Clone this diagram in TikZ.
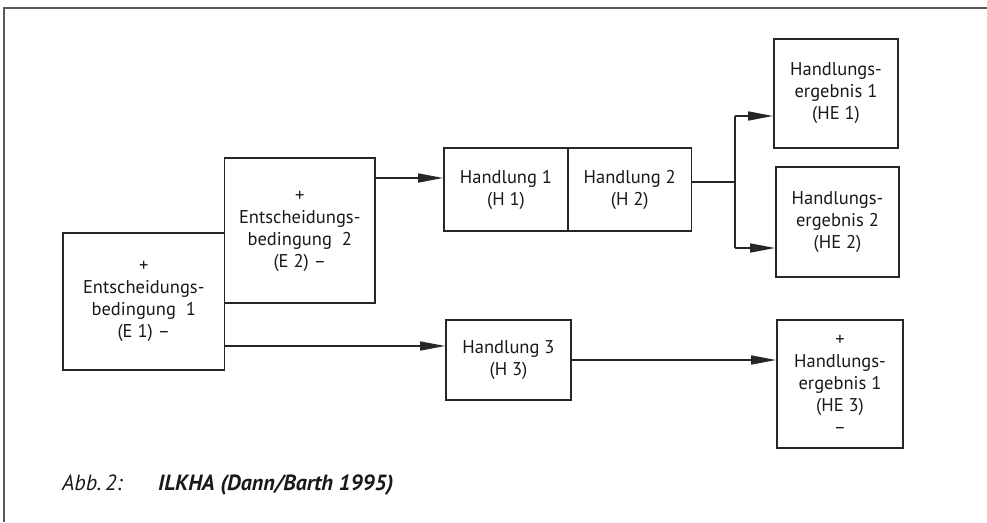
\documentclass[tikz,border=0pt]{standalone}
\usepackage{fontspec}
\setmainfont{PT Sans}
\usetikzlibrary{arrows.meta,calc}
\begin{document}
\begin{tikzpicture}[x=1pt,y=-1pt,
  box/.style={draw=black!85, line width=1.8pt, inner sep=0pt, align=center,
    font=\fontsize{18.5}{22}\selectfont, text=black!90},
  con/.style={draw=black!85, line width=1.6pt},
  arr/.style={con, -{Triangle[length=25pt,width=9pt]}},
  frame/.style={draw=black!65, line width=1.6pt}]
\useasboundingbox (0,0) rectangle (987,522);
\draw[frame] (987,8) -- (4,8) -- (4,522);
% boxes
\node[box, minimum width=161.5pt, minimum height=137pt] (e1) at (143.75,301.5)
  {+\\Entscheidungs-\\bedingung~~1\\(E 1) –};
\node[box, minimum width=150.5pt, minimum height=145pt] (e2) at (299.75,230.5)
  {\raisebox{7pt}{\begin{tabular}{@{}c@{}}+\\Entscheidungs-\\bedingung~~2\\(E 2) –\end{tabular}}};
\node[box, minimum width=124pt, minimum height=83pt] (h1) at (506,189.5)
  {Handlung 1\\(H 1)};
\node[box, minimum width=123.5pt, minimum height=83pt] (h2) at (629.75,189.5)
  {Handlung 2\\(H 2)};
\node[box, minimum width=124pt, minimum height=109pt] (he1) at (836,93.5)
  {Handlungs-\\ergebnis 1\\(HE 1)};
\node[box, minimum width=123pt, minimum height=110pt] (he2) at (837.5,222)
  {Handlungs-\\ergebnis 2\\(HE 2)};
\node[box, minimum width=125pt, minimum height=80pt] (h3) at (508.5,360)
  {Handlung 3\\(H 3)};
\node[box, minimum width=126pt, minimum height=128pt] (he3) at (840,384)
  {+\\Handlungs-\\ergebnis 1\\(HE 3)\\–};
% connectors
\coordinate (p1) at ([yshift=11.5pt]h1.west);
\draw[arr] (p1 -| e2.east) -- (p1);
\coordinate (p2) at ([yshift=7.8pt]h2.east);
\coordinate (fork) at ([xshift=42.5pt]p2);
\draw[con] (p2) -- (fork);
\coordinate (q1) at ([yshift=-22.5pt]he1.west);
\coordinate (q2) at ([yshift=-26pt]he2.west);
\draw[con] (q1 -| fork) -- (q2 -| fork);
\draw[arr] (q1 -| fork) -- (q1);
\draw[arr] (q2 -| fork) -- (q2);
\coordinate (p3) at ([yshift=14pt]h3.west);
\draw[arr] (p3 -| e1.east) -- (p3);
\draw[arr] (h3.east) -- (h3.east -| he3.west);
% caption
\node[anchor=base west, inner sep=0pt, font=\fontsize{22}{26}\selectfont\itshape, text=black!90] (abb) at (62,490) {Abb.\,2:};
\node[anchor=base west, inner sep=0pt, font=\fontsize{22}{26}\selectfont\bfseries\itshape, text=black!90] (cap) at (158,490) {ILKHA (Dann/Barth 1995)};
\end{tikzpicture}
\end{document}
